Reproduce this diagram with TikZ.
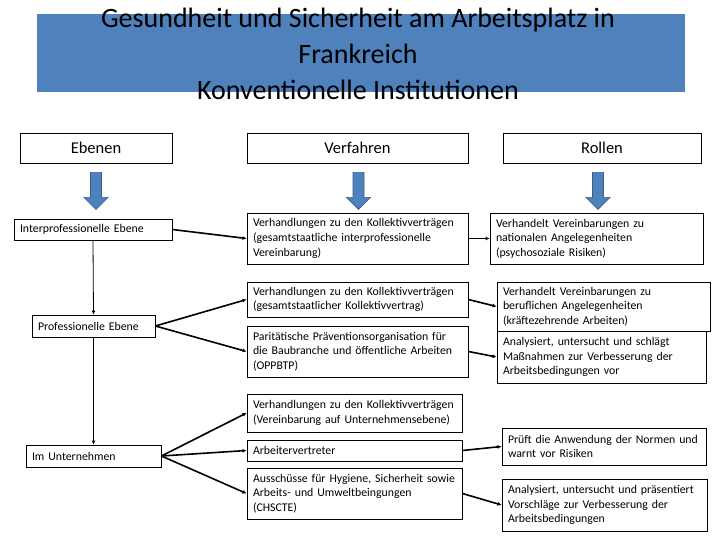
\documentclass[tikz,border=0pt]{standalone}
\usepackage{fontspec}
\setmainfont{Carlito}
\usetikzlibrary{arrows.meta,calc}
\definecolor{tblue}{RGB}{79,129,189}
\definecolor{tbluedark}{RGB}{56,93,138}
\begin{document}
\begin{tikzpicture}[x=1pt,y=-1pt,
 box/.style={draw=black, line width=0.8pt, fill=white, inner xsep=6pt, inner ysep=0pt, align=left, font=\fontsize{11.8}{14.6}\selectfont},
 headbox/.style={draw=black, line width=0.8pt, fill=white, inner sep=0pt, align=center, font=\fontsize{16.5}{19}\selectfont},
 conn/.style={line width=1.6pt, -{Latex[length=4pt,width=4pt]}},
 vconn/.style={line width=0.8pt, -{Latex[length=4pt,width=4pt]}},
 bluearrow/.style={fill=tblue, draw=tbluedark, line width=0.6pt}]
\useasboundingbox (0,0) rectangle (720,540);
% title
\fill[tblue] (37,14) rectangle (685,92);
\node[align=center, font=\fontsize{28}{36}\selectfont, inner sep=0pt] (title) at (358,54)
 {Gesundheit und Sicherheit am Arbeitsplatz in\\Frankreich\\Konventionelle Institutionen};
% headers
\node[headbox, minimum width=152, minimum height=30] (ebH) at (96,148) {Ebenen};
\node[headbox, minimum width=221, minimum height=30] (vfH) at (357.5,148) {Verfahren};
\node[headbox, minimum width=198, minimum height=30] (roH) at (602,148) {Rollen};
% blue arrows
\foreach \h/\dx in {ebH/0,vfH/1,roH/-4}{
 \draw[bluearrow] ($(\h.south)+(\dx-5.5,9)$) -- ($(\h.south)+(\dx+5.5,9)$) -- ($(\h.south)+(\dx+5.5,34)$) -- ($(\h.south)+(\dx+12,34)$)
   -- ($(\h.south)+(\dx,46)$) -- ($(\h.south)+(\dx-12,34)$) -- ($(\h.south)+(\dx-5.5,34)$) -- cycle;
}
% left column
\node[box, minimum width=158, minimum height=21, text width=146] (ip) at (93,229.5) {Interprofessionelle Ebene};
\node[box, minimum width=123, minimum height=22, text width=111] (pr) at (93.5,326) {Professionelle Ebene};
\node[box, minimum width=135, minimum height=22, text width=123] (im) at (93.5,456) {Im Unternehmen};
% middle column
\node[box, minimum width=221, minimum height=51, text width=209] (m1) at (357.5,238.5) {Verhandlungen zu den Kollektivverträgen\\(gesamtstaatliche interprofessionelle\\Vereinbarung)};
\node[box, minimum width=221, minimum height=35, text width=209] (m2) at (357.5,299.5) {Verhandlungen zu den Kollektivverträgen\\(gesamtstaatlicher Kollektivvertrag)};
\node[box, minimum width=221, minimum height=51, text width=209] (m3) at (357.5,351.5) {Paritätische Präventionsorganisation für\\die Baubranche und öffentliche Arbeiten\\(OPPBTP)};
\node[box, minimum width=215, minimum height=38, text width=203] (m4) at (354.5,413) {Verhandlungen zu den Kollektivverträgen\\(Vereinbarung auf Unternehmensebene)};
\node[box, minimum width=215, minimum height=21, text width=203] (m5) at (354.5,450.5) {Arbeitervertreter};
\node[box, minimum width=215, minimum height=51, text width=203] (m6) at (354.5,493.5) {Ausschüsse für Hygiene, Sicherheit sowie\\Arbeits- und Umweltbeingungen\\(CHSCTE)};
% right column
\node[box, minimum width=213, minimum height=51, text width=201] (r1) at (596.5,238.5) {Verhandelt Vereinbarungen zu\\nationalen Angelegenheiten\\(psychosoziale Risiken)};
\node[box, minimum width=213, minimum height=49, text width=201] (r2) at (603.5,306.5) {Verhandelt Vereinbarungen zu\\beruflichen Angelegenheiten\\(kräftezehrende Arbeiten)};
\node[box, minimum width=209, minimum height=52, text width=197] (r3) at (601.5,357) {Analysiert, untersucht und schlägt\\Maßnahmen zur Verbesserung der\\Arbeitsbedingungen vor};
\node[box, minimum width=204, minimum height=37, text width=192] (r4) at (604,446.5) {Prüft die Anwendung der Normen und\\warnt vor Risiken};
\node[box, minimum width=205, minimum height=52, text width=193] (r5) at (604.5,505) {Analysiert, untersucht und präsentiert\\Vorschläge zur Verbesserung der\\Arbeitsbedingungen};
% connectors
\draw[vconn] (ip.south) -- (pr.north);
\draw[vconn] (pr.south) -- (im.north);
\draw[conn] (ip.east) -- (m1.west);
\draw[conn] (m1.east) -- (r1.west);
\draw[conn] (pr.east) -- (m2.west);
\draw[conn] (pr.east) -- (m3.west);
\draw[conn] (m2.east) -- (r2.west);
\draw[conn] (m3.east) -- (r3.west);
\draw[conn] (im.east) -- (m4.west);
\draw[conn] (im.east) -- (m5.west);
\draw[conn] (im.east) -- (m6.west);
\draw[conn] (m5.east) -- (r4.west);
\draw[conn] (m6.east) -- (r5.west);
\end{tikzpicture}
\end{document}
